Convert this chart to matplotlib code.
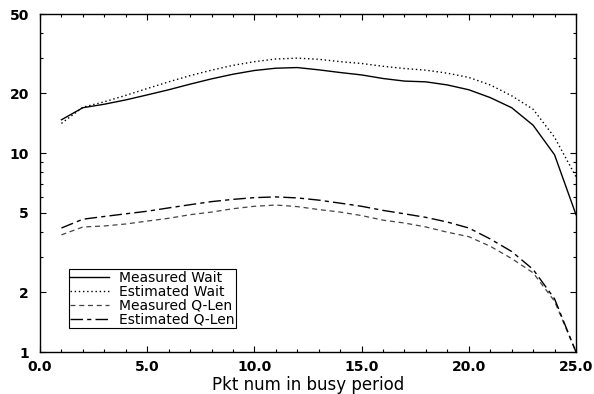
import numpy as np
import matplotlib
matplotlib.use("Agg")
import matplotlib.pyplot as plt
from matplotlib.ticker import FixedLocator, NullFormatter

plt.rcParams['font.family'] = ['DejaVu Sans']

# --- data ---
pkt = list(range(1, 26))
measured_wait = [14.7, 16.9, 17.6, 18.5, 19.6, 20.8, 22.2, 23.6, 24.9, 26.0,
                 26.7, 26.9, 26.2, 25.4, 24.7, 23.7, 23.0, 22.8, 22.0, 20.8,
                 19.0, 16.9, 13.8, 9.8, 4.9]
estimated_wait = [14.1, 17.0, 18.1, 19.5, 21.1, 22.8, 24.5, 26.1, 27.6, 28.8,
                  29.7, 30.0, 29.6, 28.8, 28.2, 27.3, 26.6, 26.1, 25.2, 24.0,
                  22.0, 19.4, 16.6, 12.0, 7.6]
measured_qlen = [3.88, 4.25, 4.3, 4.4, 4.55, 4.7, 4.9, 5.05, 5.25, 5.4,
                 5.48, 5.38, 5.2, 5.05, 4.85, 4.6, 4.45, 4.25, 4.0, 3.8,
                 3.4, 2.95, 2.5, 1.8, 1.0]
estimated_qlen = [4.2, 4.65, 4.8, 4.95, 5.1, 5.3, 5.5, 5.7, 5.85, 5.97,
                  6.02, 5.95, 5.8, 5.6, 5.4, 5.15, 4.95, 4.75, 4.5, 4.2,
                  3.7, 3.2, 2.6, 1.85, 1.0]

ytick_vals = [1, 2, 5, 10, 20, 50]
xtick_vals = [0, 5, 10, 15, 20, 25]

fig = plt.figure(figsize=(5.94, 3.94), dpi=100)
ax = fig.add_axes([40/594, 42/394, 536/594, 338/394])

ax.plot(pkt, measured_wait, color='black', lw=1.0, label="Measured Wait")
ax.plot(pkt, estimated_wait, color='black', lw=1.0, linestyle=(0, (1, 2)), label="Estimated Wait")
ax.plot(pkt, measured_qlen, color='#444444', lw=0.9, linestyle=(0, (4, 3)), label="Measured Q-Len")
ax.plot(pkt, estimated_qlen, color='black', lw=1.0, linestyle=(0, (9, 3, 3, 3)), label="Estimated Q-Len")

ax.set_yscale('log')
ax.set_ylim(1, 50)
ax.set_xlim(0, 25)

ax.yaxis.set_major_locator(FixedLocator(ytick_vals))
ax.set_yticklabels([str(v) for v in ytick_vals], fontweight='bold', fontsize=10)
ax.yaxis.set_minor_locator(FixedLocator([3, 4, 6, 7, 8, 9, 30, 40]))
ax.yaxis.set_minor_formatter(NullFormatter())

ax.set_xticks(xtick_vals)
ax.set_xticklabels(["%.1f" % v for v in xtick_vals], fontweight='bold', fontsize=10)
ax.set_xticks(np.arange(0, 26, 1), minor=True)

ax.tick_params(which='both', direction='in', top=True, right=True, width=0.8)
ax.tick_params(which='major', length=4)
ax.tick_params(which='minor', length=2)
ax.tick_params(axis='x', which='major', pad=6)
ax.tick_params(axis='y', which='major', pad=8)

for s in ax.spines.values():
    s.set_linewidth(1.0)

ax.set_xlabel("Pkt num in busy period", fontsize=12, labelpad=1)

leg = ax.legend(loc='lower left', bbox_to_anchor=(0.054, 0.071), fontsize=10,
                frameon=True, fancybox=False, edgecolor='black', framealpha=1,
                handlelength=2.8, borderpad=0.1, labelspacing=0.0, handletextpad=0.7,
                borderaxespad=0)
leg.get_frame().set_linewidth(0.8)

fig.savefig("out.png", dpi=100)
